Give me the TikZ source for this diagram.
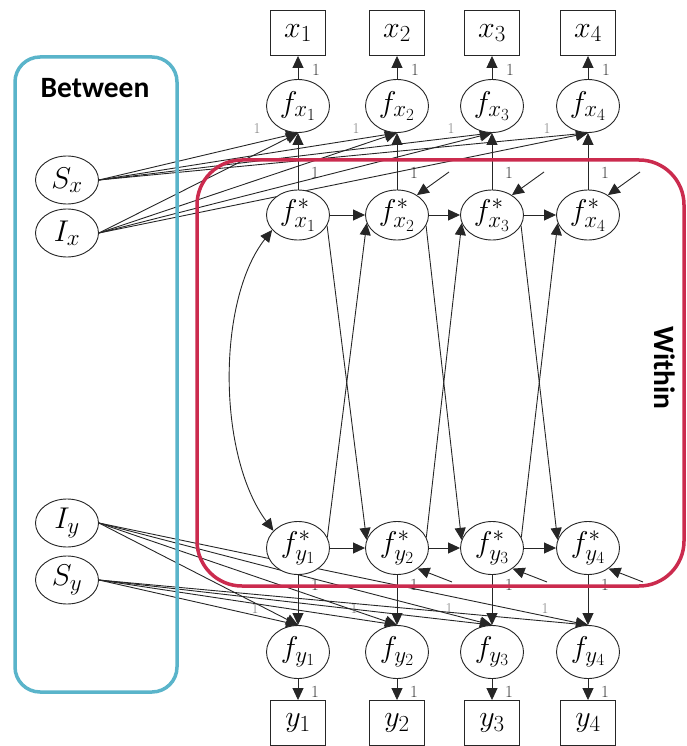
\RequirePackage{fix-cm}
\documentclass[tikz,border=0pt]{standalone}
\usepackage{fontspec}
\newfontfamily\labelfont{Carlito}
\usetikzlibrary{shapes.geometric,arrows.meta,calc,backgrounds}
\DeclareMathSizes{30}{30}{23}{17}
\definecolor{betweenblue}{HTML}{5AB4CA}
\definecolor{withinred}{HTML}{CB2B4E}
\begin{document}
\begin{tikzpicture}[x=1pt,y=-1pt,
  every node/.style={font=\fontsize{30}{32}\selectfont},
  obs/.style={draw=black!85, line width=0.9pt, rectangle, fill=white,
    minimum width=55pt, minimum height=45pt, inner sep=0pt},
  lat/.style={draw=black!85, line width=0.9pt, ellipse, fill=white,
    minimum width=63pt, minimum height=53pt, inner sep=0pt},
  side/.style={lat, minimum width=63pt, minimum height=48pt},
  link/.style={draw=black!85, line width=0.9pt},
  arr/.style={link, -{Triangle[length=12pt,width=11pt]}},
  darr/.style={link, {Triangle[length=12pt,width=11pt]}-{Triangle[length=12pt,width=11pt]}},
  one/.style={font=\fontsize{17}{17}\selectfont, text=black!75, inner sep=0pt},
  onegray/.style={font=\fontsize{15}{15}\selectfont, text=black!50, inner sep=0pt},
  frame/.style={rounded corners=#1, line width=3.5pt},
  boxtitle/.style={font=\labelfont\bfseries\fontsize{29.5}{31}\selectfont},
]
\useasboundingbox (0,0) rectangle (687,746);

% observed indicators and latent factors, one column per wave
\foreach \i/\c in {1/298,2/397,3/492,4/588}{
  \node[obs] (x\i) at (\c,33) {$x_{\i}$};
  \node[lat] (fx\i) at (\c,106) {$f_{x_{\i}}$};
  \node[lat, minimum height=50pt] (fsx\i) at (\c,215) {$f^*_{x_{\i}}$};
  \node[lat] (fsy\i) at (\c,548) {$f^*_{y_{\i}}$};
  \node[lat] (fy\i) at (\c,652) {$f_{y_{\i}}$};
  \node[obs] (y\i) at (\c,723) {$y_{\i}$};
}

% random intercepts and slopes
\node[side] (Sx) at (67,180) {$S_x$};
\node[side] (Ix) at (67,233) {$I_x$};
\node[side] (Iy) at (67,523) {$I_y$};
\node[side] (Sy) at (67,580) {$S_y$};

\begin{pgfonlayer}{background}
  \foreach \i/\c in {1/298,2/397,3/492,4/588}{
    % measurement part
    \draw[arr] (fx\i.north) -- (x\i.south);
    \node[one] at (\c+18,70) {1};
    \draw[arr] (fsx\i.north) -- (fx\i.south);
    \node[one] at (\c+17,173) {1};
    \draw[arr] (fsy\i.south) -- (fy\i.north);
    \node[one] at (\c+17,585) {1};
    \draw[arr] (fy\i.south) -- (y\i.north);
    \node[one] at (\c+17,692) {1};
    % growth loadings
    \draw[arr] (Sx.east) -- (fx\i.south);
    \draw[arr] (Ix.east) -- (fx\i.south);
    \draw[arr] (Iy.east) -- (fy\i.north);
    \draw[arr] (Sy.east) -- (fy\i.north);
    \node[onegray] at (\c-41,129) {1};
    \node[onegray] at (\c-43,609) {1};
  }
  % autoregressive and cross-lagged paths
  \foreach \i/\j in {1/2,2/3,3/4}{
    \draw[arr] (fsx\i.east) -- (fsx\j.west);
    \draw[arr] (fsy\i.east) -- (fsy\j.west);
    \draw[arr] (fsx\i.-20) -- (fsy\j.165);
    \draw[arr] (fsy\i.20) -- (fsx\j.195);
  }
  % residuals
  \foreach \i/\c in {2/397,3/492,4/588}{
    \coordinate (ex\i) at (\c+52,172);
    \coordinate (ey\i) at (\c+55,582);
    \draw[arr] (ex\i) -- (fsx\i.45);
    \draw[arr] (ey\i) -- (fsy\i.-45);
  }
  % initial covariance
  \draw[darr] (fsx1.210) .. controls (217,300) and (217,455) .. (fsy1.145);
\end{pgfonlayer}

% level frames
\draw[frame=25pt, draw=betweenblue] (15,57) rectangle (177,692);
\draw[frame=45pt, draw=withinred] (197,160) rectangle (684,586);
\node[boxtitle] (between) at (95,88) {Between};
\node[boxtitle, rotate=-90] (within) at (665,368) {Within};
\end{tikzpicture}
\end{document}
